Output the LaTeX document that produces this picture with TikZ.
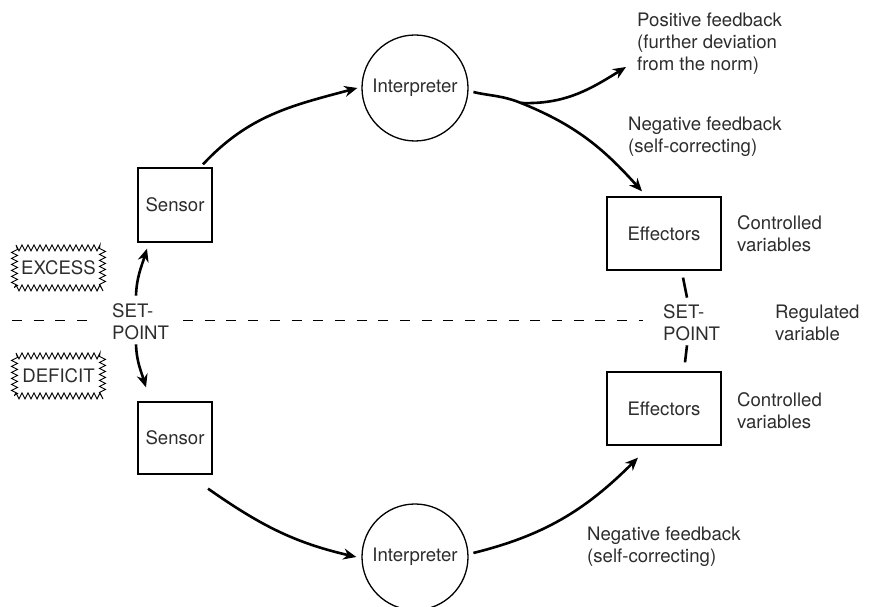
\documentclass[tikz,border=0pt]{standalone}
\usepackage{fontspec}
\setmainfont{TeX Gyre Heros}
\usetikzlibrary{arrows.meta,decorations.pathmorphing,calc}
\definecolor{txtc}{RGB}{45,45,45}
\begin{document}
\begin{tikzpicture}[x=1pt,y=1pt,
  txt/.style={font=\fontsize{18.6}{22}\selectfont, text=txtc, align=left, inner sep=0pt},
  box/.style={draw, line width=1.3pt, txt, align=center},
  circ/.style={circle, draw, line width=1.3pt, minimum size=106pt, txt, align=center},
  arr/.style={line width=2.6pt, -{Stealth[length=13pt,width=11pt]}},
  seg/.style={line width=2.6pt},
  zz/.style={draw, line width=0.9pt, decorate, decoration={zigzag, segment length=6pt, amplitude=3pt}, minimum width=88pt, minimum height=40pt, txt, align=center},
  dashline/.style={line width=1pt, dash pattern=on 10pt off 11.7pt}
]
\useasboundingbox (0,0) rectangle (871,607);

% main nodes
\node[circ] (iT) at (415,519) {Interpreter};
\node[circ] (iB) at (415,50) {Interpreter};
\node[box, minimum width=74pt, minimum height=74pt] (sT) at (175,402) {Sensor};
\node[box, minimum width=74pt, minimum height=72pt] (sB) at (175,169) {Sensor};
\node[box, minimum width=114pt, minimum height=73pt] (eT) at (664,373.5) {Effectors};
\node[box, minimum width=114pt, minimum height=73pt] (eB) at (664,198.5) {Effectors};

% labels
\node[txt, anchor=west] (cvT) at (737,373) {Controlled\\variables};
\node[txt, anchor=west] (cvB) at (737,196) {Controlled\\variables};
\node[txt, anchor=west] (rv) at (775,284) {Regulated\\variable};
\node[txt, anchor=west] (spR) at (663,284) {SET-\\POINT};
\node[txt, anchor=west] (spL) at (112,285) {SET-\\POINT};
\node[txt, anchor=west] (pf) at (637,563) {Positive feedback\\(further deviation\\from the norm)};
\node[txt, anchor=west] (nfT) at (628,470.5) {Negative feedback\\(self-correcting)};
\node[txt, anchor=west] (nfB) at (587,60.5) {Negative feedback\\(self-correcting)};

\node[zz] (ex) at (58.5,339) {EXCESS};
\node[zz] (de) at (58.5,231) {DEFICIT};

% dashed set-point line
\coordinate (d1) at (12,286);
\coordinate (d2) at (88,286);
\coordinate (d3) at (183,286);
\coordinate (d4) at (643,286);
\draw[dashline] (d1) -- (d2);
\draw[dashline] (d3) -- (d4);

% loop arrows
\coordinate (br) at (521,504);
\coordinate (pfend) at (626,540);
\draw[arr] ([shift={(28,3)}]sT.north) to[out=47,in=195] ([xshift=-4pt]iT.west);
\draw[arr, shorten <=5pt] (iT.-3) to[out=-14,in=158] (br) to[out=-22,in=132] ([shift={(-22,5)}]eT.north);
\draw[arr] (br) to[out=-2,in=212] (pfend);
\draw[arr] ([shift={(33,-14)}]sB.south) to[out=-35,in=167] ([xshift=-5pt]iB.west);
\draw[arr, shorten <=5pt] (iB.3) to[out=14,in=225] ([shift={(-26,-12)}]eB.south);

% left set-point arrows
\draw[arr] ([shift={(-39,-53)}]sT.south) to[out=88,in=253] ([shift={(-28,-6)}]sT.south);
\draw[arr] ([shift={(-39,57)}]sB.north) to[out=-88,in=107] ([shift={(-29,14)}]sB.north);

% right set-point strokes
\draw[seg] ([shift={(19,-7)}]eT.south) -- ([shift={(23,-27)}]eT.south);
\draw[seg] ([shift={(23,26)}]eB.north) -- ([shift={(21,9)}]eB.north);
\end{tikzpicture}
\end{document}
